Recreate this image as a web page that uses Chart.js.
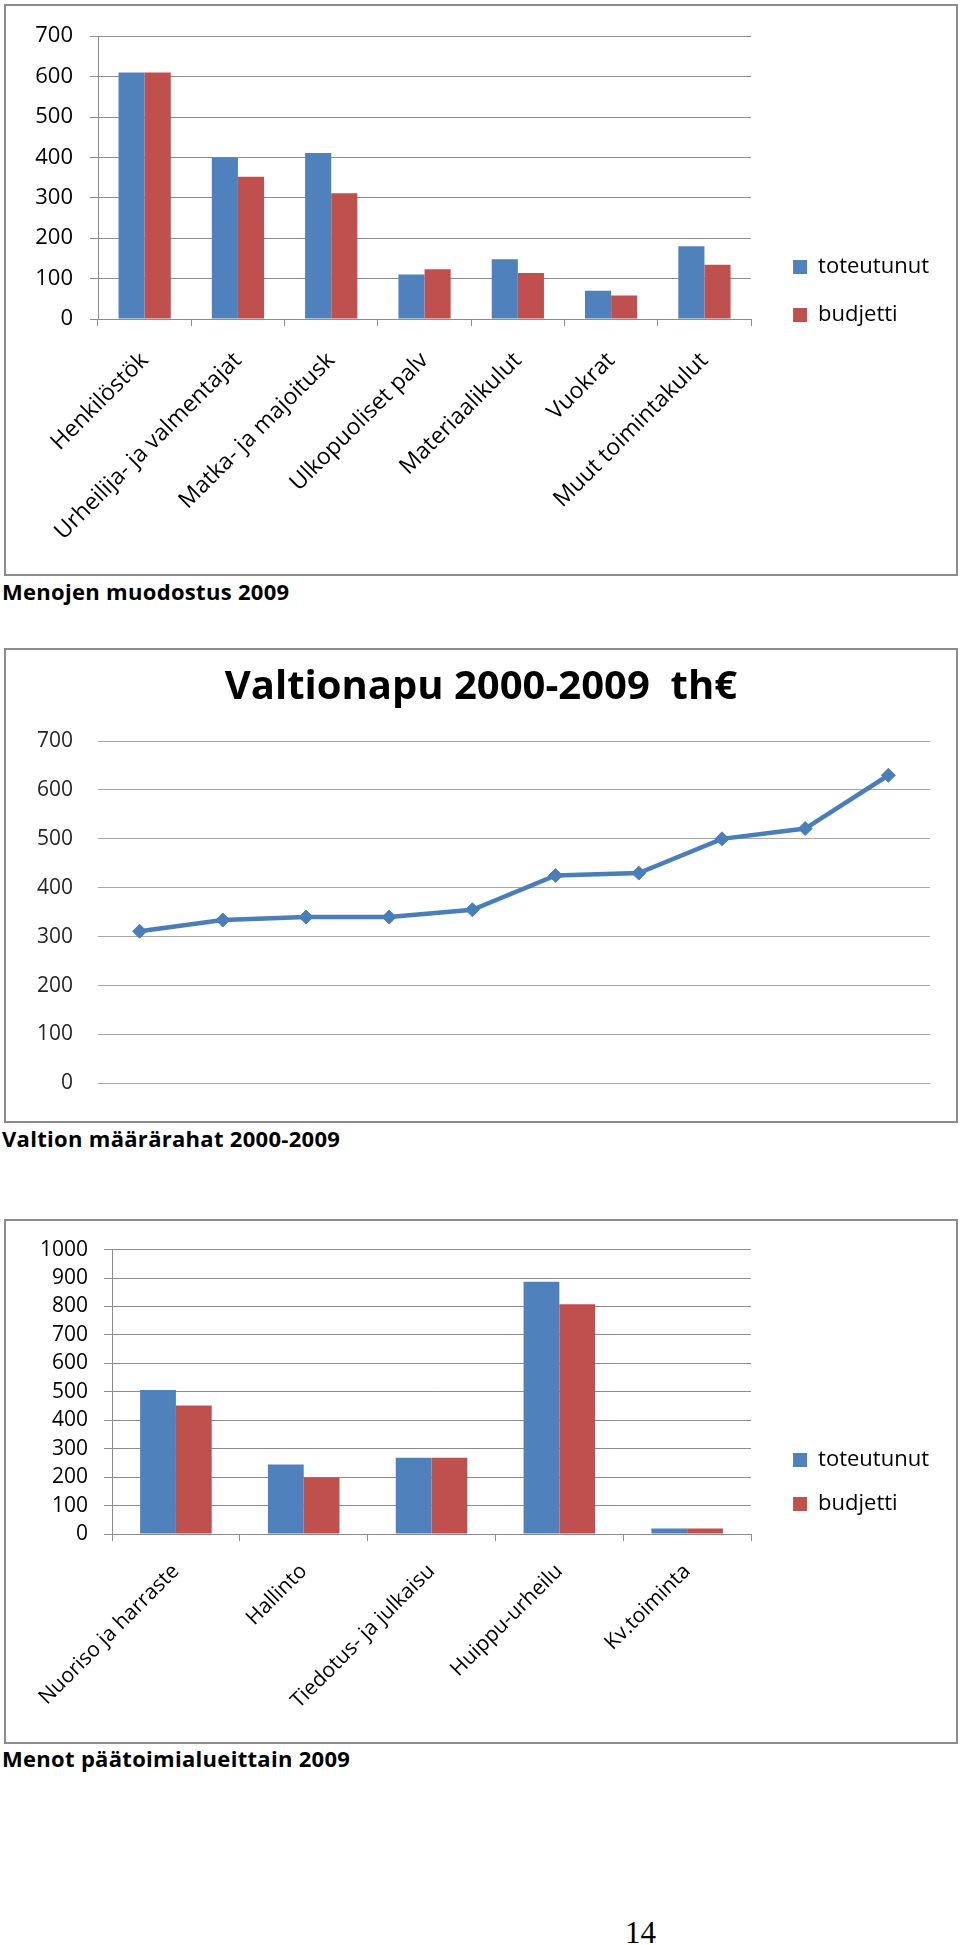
<!DOCTYPE html>
<html>
<head>
<meta charset="utf-8">
<script src="https://cdn.jsdelivr.net/npm/chart.js@4.4.1/dist/chart.umd.min.js"></script>
<style>
  html, body { margin: 0; padding: 0; background: #fff; }
  body { width: 960px; height: 1945px; position: relative; overflow: hidden; font-family: 'Open Sans', sans-serif; }
  .frame { position: absolute; left: 4px; width: 954px; box-sizing: border-box; border: 2px solid #8c8c8c; }
  .frame canvas { display: block; }
  .caption { position: absolute; left: 2px; font-weight: bold; font-size: 22px; letter-spacing: 0.3px; line-height: 1; color: #000; white-space: nowrap; }
  .page-no { position: absolute; left: 625px; top: 1917px; font-family: 'Liberation Serif', 'Times New Roman', serif; font-size: 31px; line-height: 1; }
</style>
</head>
<body>
<div class="frame" style="top:4px;height:572px"><canvas id="menot" width="950" height="568"></canvas></div>
<div class="caption" style="top:580px">Menojen muodostus 2009</div>

<div class="frame" style="top:648px;height:475px"><canvas id="valtionapu" width="950" height="471"></canvas></div>
<div class="caption" style="top:1127px">Valtion määrärahat 2000-2009</div>

<div class="frame" style="top:1219px;height:525px"><canvas id="toimialat" width="950" height="521"></canvas></div>
<div class="caption" style="top:1747px">Menot päätoimialueittain 2009</div>

<div class="page-no">14</div>

<script>
// Menojen muodostus 2009
const menoLajit = ['Henkilöstök', 'Urheilija- ja valmentajat', 'Matka- ja majoitusk', 'Ulkopuoliset palv',
                   'Materiaalikulut', 'Vuokrat', 'Muut toimintakulut'];
const menoToteutunut = [610, 400, 411, 110, 148, 70, 180];
const menoBudjetti = [610, 352, 311, 123, 114, 58, 134];
const menoMax = 700;

// Valtionapu 2000-2009
const vuodet = ['2000', '2001', '2002', '2003', '2004', '2005', '2006', '2007', '2008', '2009'];
const valtionapu = [311, 334, 340, 340, 355, 425, 430, 500, 521, 630];
const valtionapuMax = 700;

// Menot päätoimialueittain 2009
const toimialat = ['Nuoriso ja harraste', 'Hallinto', 'Tiedotus- ja julkaisu', 'Huippu-urheilu', 'Kv.toiminta'];
const toimialaToteutunut = [506, 244, 268, 887, 19];
const toimialaBudjetti = [452, 199, 268, 808, 19];
const toimialaMax = 1000;

const seriesNames = ['toteutunut', 'budjetti'];
const tickStep = 100;

const BLUE = '#4f81bd';
const RED = '#c0504d';
const LINE = '#4a7ebb';
const GRID = '#8c8c8c';

Chart.defaults.font.family = "'Open Sans', sans-serif";
Chart.defaults.color = '#000';
Chart.defaults.animation = false;

// hidden axis on the right: keeps a gap between plot and legend
// (display:false so it doesn't count when chart.js splits the width between side boxes)
function spacerAxis(w) {
    return {
        type: 'linear', position: 'right', display: false, min: 0, max: 1,
        afterFit: sc => { sc.width = w; }
    };
}

const plainNumber = v => String(v);

function groupedBars(id, labels, actual, budget, s) {
    return new Chart(document.getElementById(id), {
        type: 'bar',
        data: {
            labels: labels,
            datasets: [
                { label: seriesNames[0], data: actual, backgroundColor: BLUE, yAxisID: 'y', categoryPercentage: 0.56, barPercentage: 1 },
                { label: seriesNames[1], data: budget, backgroundColor: RED, yAxisID: 'y', categoryPercentage: 0.56, barPercentage: 1 }
            ]
        },
        options: {
            responsive: false,
            animation: false,
            layout: { padding: { top: s.padTop, bottom: s.padBottom, left: 0, right: 17 } },
            plugins: {
                legend: {
                    position: 'right',
                    align: 'center',
                    labels: { boxWidth: 14, boxHeight: 14, padding: s.legendGap, font: { size: 22 }, color: '#000' }
                },
                tooltip: { enabled: false }
            },
            scales: {
                x: {
                    grid: { offset: true, drawOnChartArea: false, color: GRID, tickLength: 7 },
                    border: { color: GRID },
                    ticks: { autoSkip: false, minRotation: 45, maxRotation: 45, padding: s.labelPad, font: { size: s.labelSize }, color: '#000' },
                    afterFit: sc => { sc.height = s.xHeight; }
                },
                y: {
                    min: 0,
                    max: s.max,
                    grid: { color: GRID, tickLength: 8 },
                    border: { color: GRID },
                    ticks: { stepSize: tickStep, padding: s.tickPad, font: { size: s.tickSize }, color: '#000', callback: plainNumber },
                    afterFit: sc => { sc.width = s.yWidth; }
                },
                spacer: spacerAxis(s.spacer)
            }
        }
    });
}

groupedBars('menot', menoLajit, menoToteutunut, menoBudjetti, {
    max: menoMax, padTop: 29, padBottom: 27, xHeight: 228, yWidth: 92, spacer: 16,
    legendGap: 26, labelPad: 21, labelSize: 23, tickPad: 17, tickSize: 22
});

groupedBars('toimialat', toimialat, toimialaToteutunut, toimialaBudjetti, {
    max: toimialaMax, padTop: 26, padBottom: 25, xHeight: 183, yWidth: 106, spacer: 20,
    legendGap: 22, labelPad: 18, labelSize: 21, tickPad: 16, tickSize: 21
});

new Chart(document.getElementById('valtionapu'), {
    type: 'line',
    data: {
        labels: vuodet,
        datasets: [{
            label: 'Valtionapu',
            data: valtionapu,
            yAxisID: 'y',
            borderColor: LINE,
            backgroundColor: LINE,
            borderWidth: 4.5,
            tension: 0,
            pointStyle: 'rectRot',
            pointRadius: 7,
            pointBorderWidth: 1,
            pointBackgroundColor: LINE,
            pointBorderColor: LINE
        }]
    },
    options: {
        responsive: false,
        animation: false,
        layout: { padding: { top: 0, bottom: 24, left: 0, right: 0 } },
        plugins: {
            legend: { display: false },
            tooltip: { enabled: false },
            title: {
                display: true,
                text: 'Valtionapu 2000-2009  th€',
                color: '#000',
                font: { size: 40, weight: 'bold' },
                padding: { top: 14, bottom: 29 }
            }
        },
        scales: {
            x: { display: false, offset: true },
            y: {
                min: 0,
                max: valtionapuMax,
                grid: { color: '#a6a6a6', drawTicks: false },
                border: { display: false },
                ticks: { stepSize: tickStep, padding: 25, font: { size: 21 }, color: '#262626', callback: plainNumber },
                afterFit: sc => { sc.width = 92; }
            },
            spacer: spacerAxis(26)
        }
    }
});
</script>
</body>
</html>
